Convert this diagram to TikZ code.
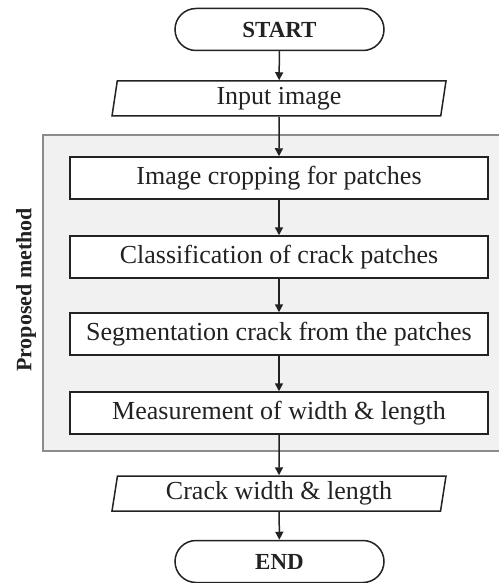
\documentclass[tikz,border=0pt]{standalone}
\usepackage{fontspec}
\setmainfont{Liberation Serif}
\usetikzlibrary{shapes.geometric,arrows.meta}
\definecolor{panelfill}{HTML}{F1F1F1}
\definecolor{panelline}{HTML}{8C8C8C}
\definecolor{ink}{HTML}{222222}
\begin{document}
\begin{tikzpicture}[x=1pt,y=1pt,
  every node/.style={text=ink},
  term/.style={draw=ink,line width=1.5pt,fill=white,rounded corners=21pt,minimum width=209pt,minimum height=42pt,inner sep=0pt,font=\fontsize{23}{26}\selectfont\bfseries},
  io/.style={draw=ink,line width=1.5pt,fill=white,trapezium,trapezium left angle=77,trapezium right angle=103,trapezium stretches body,minimum width=334pt,minimum height=35pt,inner sep=0pt,font=\fontsize{26}{30}\selectfont},
  proc/.style={draw=ink,line width=1.5pt,fill=white,minimum width=418pt,minimum height=42pt,inner sep=0pt,font=\fontsize{26}{30}\selectfont},
  flow/.style={draw=ink,line width=1.5pt,-{Triangle[width=8pt,length=8pt]}}
]
\useasboundingbox (0,0) rectangle (498,-583);
\fill[white] (0,0) rectangle (498,-583);
\draw[panelline,fill=panelfill,line width=1.2pt] (43,-135) rectangle (505,-451);
\node[rotate=90,font=\fontsize{22}{26}\selectfont\bfseries] (pm) at (26,-290) {Proposed method};
\node[term] (start) at (279.5,-29.5) {START};
\node[io] (in) at (279,-98.5) {Input image};
\node[proc] (p1) at (279,-178) {Image cropping for patches};
\node[proc] (p2) at (279,-257) {Classification of crack patches};
\node[proc] (p3) at (279,-334) {Segmentation crack from the patches};
\node[proc] (p4) at (279,-413) {Measurement of width \& length};
\node[io] (out) at (279,-493.5) {Crack width \& length};
\node[term] (end) at (279.5,-561.5) {END};
\draw[flow] (start) -- (in);
\draw[flow] (in) -- (p1);
\draw[flow] (p1) -- (p2);
\draw[flow] (p2) -- (p3);
\draw[flow] (p3) -- (p4);
\draw[flow] (p4) -- (out);
\draw[flow] (out) -- (end);
\end{tikzpicture}
\end{document}
